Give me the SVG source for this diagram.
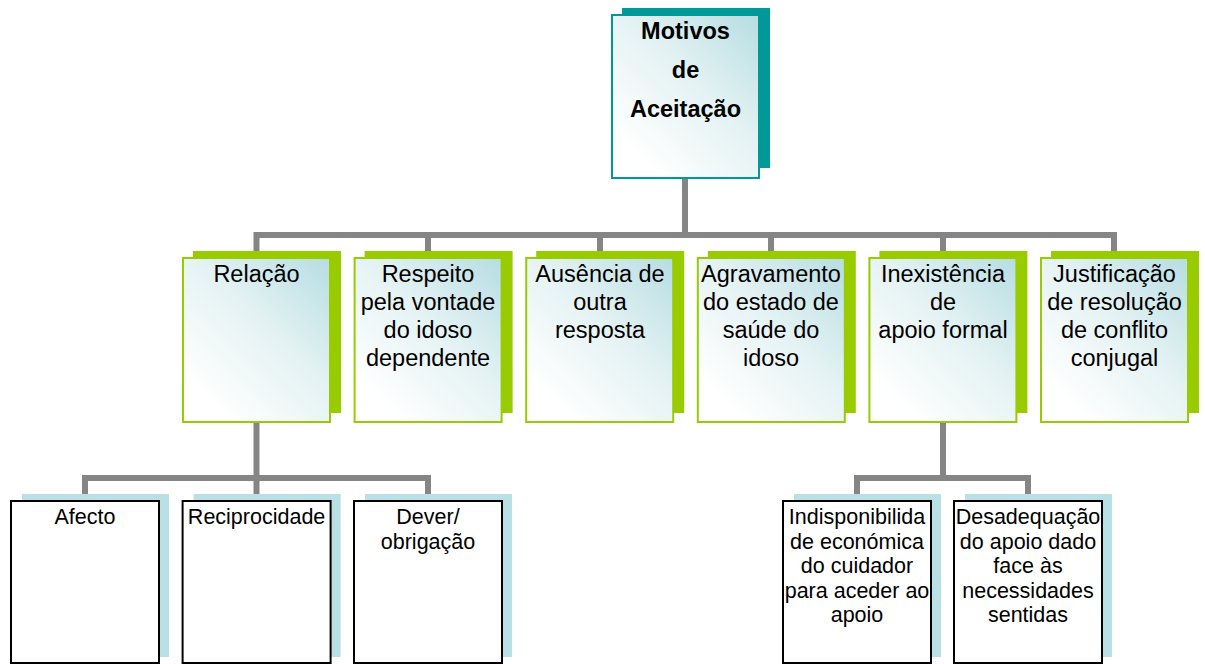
<svg xmlns="http://www.w3.org/2000/svg" width="1205" height="664" viewBox="0 0 1205 664">
<defs>
<linearGradient id="g" x1="1" y1="0" x2="0.2" y2="0.9">
<stop offset="0" stop-color="#b6dde2"/>
<stop offset="0.5" stop-color="#e4f2f3"/>
<stop offset="1" stop-color="#ffffff"/>
</linearGradient>
<style>
.conn{fill:none;stroke:#858585;stroke-width:6;stroke-linejoin:miter}
.sh1{fill:#009999}
.b1{fill:url(#g);stroke:#009999;stroke-width:2}
.sh2{fill:#99cc00}
.b2{fill:url(#g);stroke:#99cc00;stroke-width:2}
.sh3{fill:#b9e0e4}
.b3{fill:#ffffff;stroke:#000000;stroke-width:2}
text{font-family:"Liberation Sans",Arial,sans-serif;fill:#000;text-anchor:middle}
.t1{font-size:23.5px;font-weight:bold}
.t2{font-size:23.5px}
.t3{font-size:21.5px}
</style>
</defs>
<rect width="1205" height="664" fill="#ffffff"/>
<g id="connectors">
<path class="conn" d="M685,178 V235 M256.5,251 V235 H1114 V251 M428,235 V251 M600,235 V251 M771,235 V251 M943,235 V251"/>
<path class="conn" d="M256.5,422 V494 M85,494 V478 H428 V494"/>
<path class="conn" d="M943,422 V478 M857,494 V478 H1028 V494"/>
</g>
<g id="n-root">
<rect class="sh1" x="622" y="8" width="148" height="160"/>
<rect class="b1" x="612" y="15" width="147" height="163"/>
<text class="t1" x="685.5" y="39">Motivos</text>
<text class="t1" x="685.5" y="78">de</text>
<text class="t1" x="685.5" y="117">Aceitação</text>
</g>
<g id="n-relacao">
<rect class="sh2" x="193" y="251" width="148" height="162"/>
<rect class="b2" x="183" y="258" width="147" height="164"/>
<text class="t2" x="256.5" y="282">Relação</text>
</g>
<g id="n-respeito">
<rect class="sh2" x="364.6" y="251" width="148" height="162"/>
<rect class="b2" x="354.6" y="258" width="147" height="164"/>
<text class="t2" x="428" y="282">Respeito</text>
<text class="t2" x="428" y="310">pela vontade</text>
<text class="t2" x="428" y="338">do idoso</text>
<text class="t2" x="428" y="366">dependente</text>
</g>
<g id="n-ausencia">
<rect class="sh2" x="536.2" y="251" width="148" height="162"/>
<rect class="b2" x="526.2" y="258" width="147" height="164"/>
<text class="t2" x="600" y="282">Ausência de</text>
<text class="t2" x="600" y="310">outra</text>
<text class="t2" x="600" y="338">resposta</text>
</g>
<g id="n-agravamento">
<rect class="sh2" x="707.8" y="251" width="148" height="162"/>
<rect class="b2" x="697.8" y="258" width="147" height="164"/>
<text class="t2" x="771" y="282">Agravamento</text>
<text class="t2" x="771" y="310">do estado de</text>
<text class="t2" x="771" y="338">saúde do</text>
<text class="t2" x="771" y="366">idoso</text>
</g>
<g id="n-inexistencia">
<rect class="sh2" x="879.4" y="251" width="148" height="162"/>
<rect class="b2" x="869.4" y="258" width="147" height="164"/>
<text class="t2" x="943" y="282">Inexistência</text>
<text class="t2" x="943" y="310">de</text>
<text class="t2" x="943" y="338">apoio formal</text>
</g>
<g id="n-justificacao">
<rect class="sh2" x="1051" y="251" width="148" height="162"/>
<rect class="b2" x="1041" y="258" width="147" height="164"/>
<text class="t2" x="1114.5" y="282">Justificação</text>
<text class="t2" x="1114.5" y="310">de resolução</text>
<text class="t2" x="1114.5" y="338">de conflito</text>
<text class="t2" x="1114.5" y="366">conjugal</text>
</g>
<g id="n-afecto">
<rect class="sh3" x="22" y="494" width="147" height="163"/>
<rect class="b3" x="11" y="501" width="148" height="162"/>
<text class="t3" x="85" y="524">Afecto</text>
</g>
<g id="n-reciprocidade">
<rect class="sh3" x="193.6" y="494" width="147" height="163"/>
<rect class="b3" x="182.6" y="501" width="148" height="162"/>
<text class="t3" x="256.6" y="524">Reciprocidade</text>
</g>
<g id="n-dever">
<rect class="sh3" x="365" y="494" width="147" height="163"/>
<rect class="b3" x="354" y="501" width="148" height="162"/>
<text class="t3" x="428" y="524">Dever/</text>
<text class="t3" x="428" y="548.5">obrigação</text>
</g>
<g id="n-indisponibilidade">
<rect class="sh3" x="794" y="494" width="147" height="163"/>
<rect class="b3" x="783" y="501" width="148" height="162"/>
<text class="t3" x="857" y="524">Indisponibilida</text>
<text class="t3" x="857" y="548.5">de económica</text>
<text class="t3" x="857" y="573">do cuidador</text>
<text class="t3" x="857" y="597.5">para aceder ao</text>
<text class="t3" x="857" y="622">apoio</text>
</g>
<g id="n-desadequacao">
<rect class="sh3" x="965" y="494" width="147" height="163"/>
<rect class="b3" x="954" y="501" width="148" height="162"/>
<text class="t3" x="1028" y="524">Desadequação</text>
<text class="t3" x="1028" y="548.5">do apoio dado</text>
<text class="t3" x="1028" y="573">face às</text>
<text class="t3" x="1028" y="597.5">necessidades</text>
<text class="t3" x="1028" y="622">sentidas</text>
</g>
</svg>
